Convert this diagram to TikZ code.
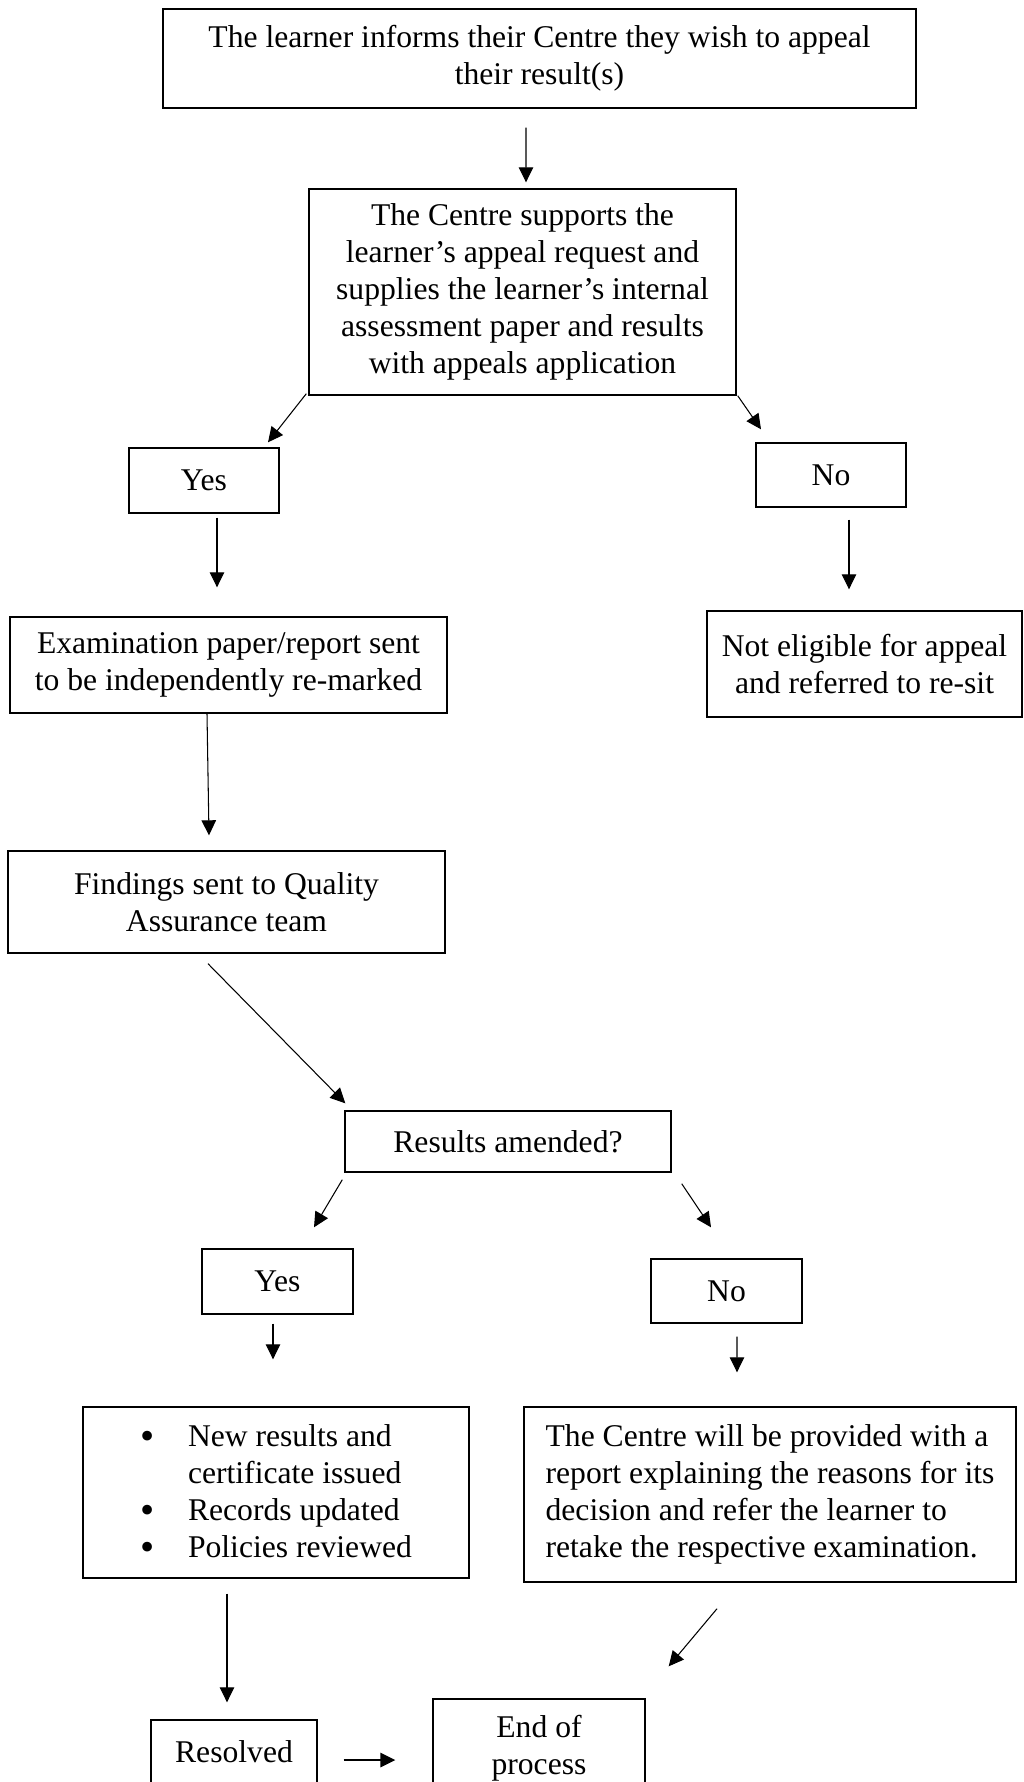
\documentclass[tikz,border=0pt]{standalone}
\usepackage{fontspec}
\setmainfont{Liberation Serif}
\usetikzlibrary{arrows.meta,calc}

\newcommand{\itemdot}{\makebox[0.96cm][l]{\raisebox{-1.7pt}{\smash{\fontsize{23}{21}\selectfont\textbullet}}}}

\begin{document}
\begin{tikzpicture}[x=0.02cm, y=-0.02cm,
    box/.style={draw, rectangle, line width=0.8pt, inner sep=0pt, align=center, font=\fontsize{18}{21}\selectfont},
    boxsize/.style 2 args={minimum width=#1*0.02cm, minimum height=#2*0.02cm},
    arr/.style={-{Triangle[length=0.3cm,width=0.29cm]}, line width=0.6pt}]
    \useasboundingbox (0,0) rectangle (1024,1782);
    \clip (0,0) rectangle (1024,1782);

    % top of the process
    \node[box, boxsize={753}{99}] (learner) at (539.5,58.5) {The learner informs their Centre they wish to appeal\\their result(s)};
    \node[box, boxsize={427}{206}] (centre) at (522.5,292) {The Centre supports the\\learner’s appeal request and\\supplies the learner’s internal\\assessment paper and results\\with appeals application};
    \node[box, boxsize={150}{65}] (yes1) at (204,480.5) {Yes};
    \node[box, boxsize={150}{64}] (no1) at (831,475) {No};
    \node[box, boxsize={437}{96}] (exam) at (228.5,665) {Examination paper/report sent\\to be independently re-marked};
    \node[box, boxsize={315}{106}] (noteligible) at (864.5,664) {Not eligible for appeal\\and referred to re-sit};
    \node[box, boxsize={437}{102}] (findings) at (226.5,902) {Findings sent to Quality\\Assurance team};

    % outcome of the re-mark
    \node[box, boxsize={326}{61}] (amended) at (508,1141.5) {Results amended?};
    \node[box, boxsize={151}{65}] (yes2) at (277.5,1281.5) {Yes};
    \node[box, boxsize={151}{64}] (no2) at (726.5,1291) {No};
    \node[box, boxsize={386}{171}, align=left] (updates) at (276,1492.5) {\itemdot New results and\\\hspace*{0.96cm}certificate issued\\\itemdot Records updated\\\itemdot Policies reviewed};
    \node[box, boxsize={492}{175}, align=left] (report) at (770,1494.5) {The Centre will be provided with a\\report explaining the reasons for its\\decision and refer the learner to\\retake the respective examination.};
    \node[box, boxsize={166}{64}] (resolved) at (234,1752) {Resolved};
    \node[box, boxsize={212}{98}] (endproc) at (539,1748) {End of\\process};

    \draw[arr] ($(learner.south)+(-13.5,19)$) -- ($(centre.north)+(3.5,-6)$);
    \draw[arr] ($(centre.south west)+(-2,-2)$) -- ($(yes1.north)+(64,-5)$);
    \draw[arr] ($(centre.south east)+(1,0)$) -- ($(no1.north)+(-70,-13)$);
    \draw[arr] ($(yes1.south)+(13,4)$) -- ($(exam.north)+(-11.5,-29)$);
    \draw[arr] ($(no1.south)+(18,12)$) -- ($(noteligible.north)+(-15.5,-21)$);
    \draw[arr] ($(exam.south)+(-21.5,0)$) -- ($(findings.north)+(-17.5,-15)$);
    \draw[arr] ($(findings.south)+(-18.5,10)$) -- ($(amended.north west)+(1,-7)$);
    \draw[arr] ($(amended.south west)+(-2,7)$) -- ($(yes2.north)+(36.5,-21)$);
    \draw[arr] ($(amended.south east)+(10,11)$) -- ($(no2.north)+(-15.5,-31)$);
    \draw[arr] ($(yes2.south)+(-4.5,9)$) -- ($(updates.north)+(-3,-47)$);
    \draw[arr] ($(no2.south)+(10.5,13)$) -- ($(report.north)+(-33,-34)$);
    \draw[arr] ($(updates.south)+(-49,15)$) -- ($(resolved.north)+(-7,-17)$);
    \draw[arr] ($(report.south)+(-53,26)$) -- ($(endproc.north east)+(23,-32)$);
    \draw[arr, line width=0.9pt] ($(resolved.east)+(26,8)$) -- ($(endproc.west)+(-37,12)$);
\end{tikzpicture}
\end{document}
